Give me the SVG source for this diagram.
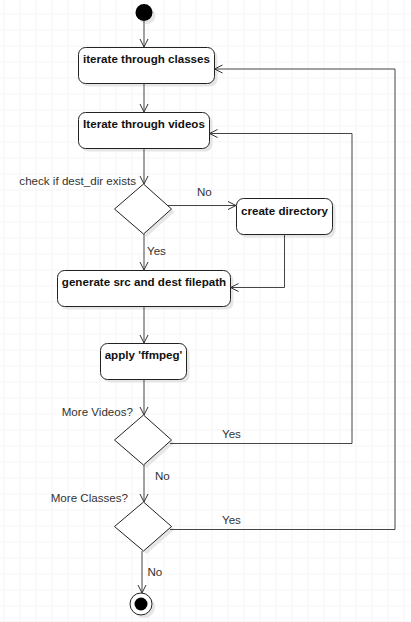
<svg xmlns="http://www.w3.org/2000/svg" width="411" height="622" viewBox="0 0 411 622">
<defs>
<pattern id="grid" x="3.5" y="13.5" width="16" height="16" patternUnits="userSpaceOnUse">
<path d="M0 0 H16 M0 0 V16" fill="none" stroke="#ebebeb" stroke-width="1"/>
</pattern>
<marker id="arr" markerWidth="10" markerHeight="10" refX="9" refY="5" orient="auto" markerUnits="userSpaceOnUse" viewBox="0 0 10 10">
<path d="M1 1 L9 5 L1 9" fill="none" stroke="#333" stroke-width="1"/>
</marker>
<style>
.box{fill:#fff;stroke:#222;stroke-width:1}
.shadow{fill:#e6e6e6;stroke:none}
.bt{font-family:"Liberation Sans",Arial,sans-serif;font-size:11.6px;font-weight:bold;fill:#111;text-anchor:middle}
.lbl{font-family:"Liberation Sans",Arial,sans-serif;font-size:11.6px;fill:#333}
.edge{fill:none;stroke:#444;stroke-width:1}
</style>
</defs>
<rect width="411" height="622" fill="#fff"/>
<rect width="411" height="622" fill="url(#grid)"/>

<g id="start">
<circle cx="147" cy="15.5" r="8.5" class="shadow"/>
<circle cx="144" cy="12.5" r="8.5" fill="#000"/>
</g>

<g id="iterate-classes">
<rect x="81.5" y="50.5" width="136" height="36" rx="7" class="shadow"/>
<rect x="78.5" y="47.5" width="136" height="36" rx="7" class="box"/>
<text x="146.5" y="63" class="bt">iterate through classes</text>
</g>

<g id="iterate-videos">
<rect x="81.5" y="115.5" width="131" height="36" rx="7" class="shadow"/>
<rect x="78.5" y="112.5" width="131" height="36" rx="7" class="box"/>
<text x="144" y="128" class="bt">Iterate through videos</text>
</g>

<g id="check-dir">
<polygon points="146.5,187 174.5,212 146.5,237 117.5,212" class="shadow"/>
<polygon points="143.5,184 171.5,209 143.5,234 114.5,209" class="box"/>
<text x="136" y="185" class="lbl" text-anchor="end">check if dest_dir exists</text>
</g>

<g id="create-directory">
<rect x="239.5" y="201.5" width="96" height="36" rx="7" class="shadow"/>
<rect x="236.5" y="198.5" width="96" height="36" rx="7" class="box"/>
<text x="284.5" y="214.5" class="bt">create directory</text>
</g>

<g id="generate-paths">
<rect x="60.5" y="273.5" width="173" height="36" rx="7" class="shadow"/>
<rect x="57.5" y="270.5" width="173" height="36" rx="7" class="box"/>
<text x="144" y="286" class="bt">generate src and dest filepath</text>
</g>

<g id="apply-ffmpeg">
<rect x="103.5" y="346.5" width="86" height="36" rx="7" class="shadow"/>
<rect x="100.5" y="343.5" width="86" height="36" rx="7" class="box"/>
<text x="143.5" y="358.5" class="bt">apply 'ffmpeg'</text>
</g>

<g id="more-videos">
<polygon points="146.5,418 174.5,443 146.5,468 117.5,443" class="shadow"/>
<polygon points="143.5,415 171.5,440 143.5,465 114.5,440" class="box"/>
<text x="133" y="415.5" class="lbl" text-anchor="end">More Videos?</text>
</g>

<g id="more-classes">
<polygon points="146.5,505 174.5,529.5 146.5,554 117.5,529.5" class="shadow"/>
<polygon points="143.5,502 171.5,526.5 143.5,551 114.5,526.5" class="box"/>
<text x="128" y="501.5" class="lbl" text-anchor="end">More Classes?</text>
</g>

<g id="end">
<circle cx="144" cy="607" r="11" class="shadow"/>
<circle cx="141" cy="604" r="11" fill="#fff" stroke="#222" stroke-width="1"/>
<circle cx="141" cy="604" r="6.5" fill="#000"/>
</g>

<g id="connectors">
<path d="M144 21 V47" class="edge" marker-end="url(#arr)"/>
<path d="M144 83.5 V112" class="edge" marker-end="url(#arr)"/>
<path d="M144 148.5 V184" class="edge" marker-end="url(#arr)"/>
<path d="M168 205.5 H236" class="edge" marker-end="url(#arr)"/>
<path d="M144 234 V270" class="edge" marker-end="url(#arr)"/>
<path d="M284.5 234.5 V287.5 H230.5" class="edge" marker-end="url(#arr)"/>
<path d="M144 306.5 V343" class="edge" marker-end="url(#arr)"/>
<path d="M144 379.5 V415" class="edge" marker-end="url(#arr)"/>
<path d="M170 443.5 H352 V133.5 H209.5" class="edge" marker-end="url(#arr)"/>
<path d="M144 465 V502" class="edge" marker-end="url(#arr)"/>
<path d="M170 529.5 H395 V69 H214.5" class="edge" marker-end="url(#arr)"/>
<path d="M142 551 V593" class="edge" marker-end="url(#arr)"/>
<text x="197" y="196" class="lbl">No</text>
<text x="147" y="255" class="lbl">Yes</text>
<text x="222" y="438" class="lbl">Yes</text>
<text x="155" y="480" class="lbl">No</text>
<text x="222" y="523.5" class="lbl">Yes</text>
<text x="147.5" y="576" class="lbl">No</text>
</g>
</svg>
